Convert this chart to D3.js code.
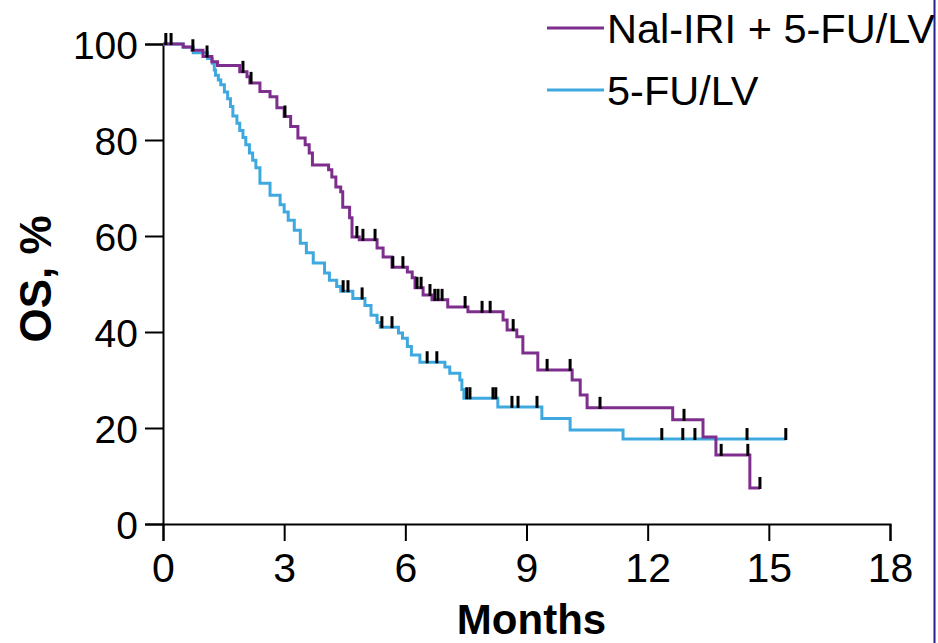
<!DOCTYPE html>
<html>
<head>
<meta charset="utf-8">
<script src="https://cdn.jsdelivr.net/npm/d3@7"></script>
<style>
  body { margin: 0; background: #fff; }
  text { font-family: "Liberation Sans", Arial, sans-serif; fill: #000; }
</style>
</head>
<body>
<div id="chart"></div>
<script>
// Nal-IRI + 5-FU/LV: step times (months) and survival (%) after each step
var nalTimes = [0, 0.50, 0.72, 0.99, 1.21, 1.35, 1.90, 2.08, 2.15, 2.40, 2.65, 2.82, 3.00, 3.16, 3.34, 3.52, 3.62, 3.70, 4.10, 4.18, 4.28, 4.40, 4.45, 4.62, 4.68, 4.86, 5.30, 5.45, 5.67, 6.05, 6.17, 6.24, 6.44, 6.66, 7.05, 7.55, 8.42, 8.52, 8.76, 8.91, 9.28, 10.13, 10.33, 10.50, 12.62, 13.37, 13.69, 14.53];
var nalSurv = [100, 99.4, 98.7, 97.4, 96.3, 95.5, 94.2, 93.2, 91.9, 90.1, 89.0, 86.7, 84.9, 82.8, 80.4, 79.0, 77.3, 74.8, 73.8, 72.3, 70.2, 69.2, 66.0, 63.8, 59.8, 59.2, 57.5, 55.6, 53.5, 52.5, 51.3, 49.2, 47.7, 46.7, 45.2, 44.2, 42.5, 40.4, 39.0, 35.6, 32.1, 30.0, 26.9, 24.2, 21.7, 18.1, 14.4, 7.5];
var nalCensor = [0.07, 0.20, 0.74, 1.09, 1.98, 2.18, 3.02, 4.80, 4.95, 5.25, 5.69, 5.94, 6.29, 6.39, 6.61, 6.73, 6.81, 6.91, 7.48, 7.90, 8.10, 8.67, 9.51, 10.08, 10.82, 12.90, 13.82, 14.48, 14.78];
var nalEnd = 14.78;

// 5-FU/LV
var fuTimes = [0, 0.50, 0.75, 1.10, 1.22, 1.27, 1.30, 1.37, 1.43, 1.52, 1.60, 1.67, 1.73, 1.83, 1.90, 1.98, 2.05, 2.14, 2.22, 2.30, 2.40, 2.65, 2.90, 3.00, 3.10, 3.25, 3.40, 3.55, 3.72, 4.00, 4.12, 4.30, 4.40, 4.70, 5.00, 5.15, 5.30, 5.38, 5.83, 5.93, 6.05, 6.15, 6.36, 6.98, 7.10, 7.35, 7.40, 7.45, 8.29, 9.38, 10.08, 11.39];
var fuSurv = [100, 99.3, 98.2, 97.0, 96.0, 94.6, 93.5, 92.5, 91.5, 90.0, 88.6, 87.0, 85.0, 83.5, 82.0, 80.5, 79.0, 77.3, 75.8, 74.2, 71.0, 68.5, 66.5, 65.0, 63.3, 61.2, 58.5, 56.5, 54.4, 52.3, 50.8, 49.5, 48.5, 47.0, 45.5, 43.5, 42.0, 41.0, 39.8, 38.7, 37.0, 35.2, 33.7, 32.7, 31.4, 30.0, 28.0, 26.2, 24.4, 22.0, 19.6, 17.7];
var fuCensor = [4.46, 4.58, 4.93, 5.42, 5.67, 6.54, 6.78, 7.52, 7.60, 8.17, 8.24, 8.64, 8.79, 9.26, 12.35, 12.87, 13.17, 14.46, 15.42];
var fuEnd = 15.42;

var xTicks = [0, 3, 6, 9, 12, 15, 18];
var yTicks = [0, 20, 40, 60, 80, 100];
var seriesNames = ["Nal-IRI + 5-FU/LV", "5-FU/LV"];
var seriesColors = ["#7e2f8e", "#3fa9df"];

var chartWidth = 938, chartHeight = 643,
    margin = {top: 44, right: 48, bottom: 119, left: 163},
    width = chartWidth - margin.left - margin.right,
    height = chartHeight - margin.top - margin.bottom;

var svg = d3.select("#chart").append("svg")
    .attr("width", chartWidth)
    .attr("height", chartHeight);

var x = d3.scaleLinear().domain([0, 18]).range([0, width]),
    y = d3.scaleLinear().domain([0, 100]).range([height, 0]);

var g = svg.append("g")
    .attr("transform", "translate(" + margin.left + "," + margin.top + ")");

// axes
var yAxis = g.append("g")
    .call(d3.axisLeft(y).tickValues(yTicks).tickSize(18).tickPadding(7));
var xAxis = g.append("g")
    .attr("transform", "translate(0," + height + ")")
    .call(d3.axisBottom(x).tickValues(xTicks).tickSize(17).tickPadding(10));

[yAxis, xAxis].forEach(function(a) {
  a.select(".domain").attr("stroke", "#000").attr("stroke-width", 2);
  a.selectAll(".tick line").attr("stroke", "#000").attr("stroke-width", 2);
});
yAxis.selectAll(".tick text")
    .style("font-size", "39px")
    .attr("dy", "0.36em");
xAxis.selectAll(".tick text")
    .style("font-size", "41px")
    .style("font-family", "'Liberation Sans Narrow', 'Arial Narrow', sans-serif")
    .attr("dy", "0.75em");

g.append("text")
    .attr("transform", "translate(-112," + (height / 2 - 5) + ") rotate(-90)")
    .attr("text-anchor", "middle")
    .style("font-size", "44px")
    .style("font-weight", "bold")
    .text("OS, %");

svg.append("text")
    .attr("x", margin.left + x(9) + 5)
    .attr("y", 634)
    .attr("text-anchor", "middle")
    .style("font-size", "42px")
    .style("font-weight", "bold")
    .style("font-family", "'Liberation Sans Narrow', 'Arial Narrow', sans-serif")
    .text("Months");

// survival step function lookup, used to put censor marks on the curve
function survAt(times, surv, t) {
  var i = d3.bisectRight(times, t) - 1;
  return surv[Math.max(i, 0)];
}

var line = d3.line()
    .x(function(d) { return x(d[0]); })
    .y(function(d) { return y(d[1]); })
    .curve(d3.curveStepAfter);

var series = [
  {times: nalTimes, surv: nalSurv, censor: nalCensor, end: nalEnd},
  {times: fuTimes, surv: fuSurv, censor: fuCensor, end: fuEnd}
];

// draw 5-FU/LV first so Nal-IRI sits on top
[1, 0].forEach(function(k) {
  var s = series[k];
  var pts = s.times.map(function(t, i) { return [t, s.surv[i]]; });
  pts.push([s.end, s.surv[s.surv.length - 1]]);
  g.append("path")
      .datum(pts)
      .attr("fill", "none")
      .attr("stroke", seriesColors[k])
      .attr("stroke-width", 3)
      .attr("d", line);
});

series.forEach(function(s) {
  g.selectAll(null)
    .data(s.censor)
    .enter().append("line")
      .attr("x1", function(d) { return x(d); })
      .attr("x2", function(d) { return x(d); })
      .attr("y1", function(d) { return y(survAt(s.times, s.surv, d)) - 11; })
      .attr("y2", function(d) { return y(survAt(s.times, s.surv, d)) + 1; })
      .attr("stroke", "#000")
      .attr("stroke-width", 3);
});

// legend
var legend = svg.append("g");
seriesNames.forEach(function(name, i) {
  var ly = 28 + i * 62;
  legend.append("line")
      .attr("x1", 547).attr("x2", 604)
      .attr("y1", ly).attr("y2", ly)
      .attr("stroke", seriesColors[i])
      .attr("stroke-width", 3);
  legend.append("text")
      .attr("x", 607)
      .attr("y", ly + 15)
      .style("font-size", "41.5px")
      .text(name);
});

// right frame edge
svg.append("rect")
    .attr("x", 935.5).attr("y", 0)
    .attr("width", 3).attr("height", chartHeight)
    .attr("fill", "#fff");
svg.append("line")
    .attr("x1", 934.5).attr("x2", 934.5)
    .attr("y1", 0).attr("y2", chartHeight)
    .attr("stroke", "#23238f")
    .attr("stroke-width", 2);
</script>
</body>
</html>
